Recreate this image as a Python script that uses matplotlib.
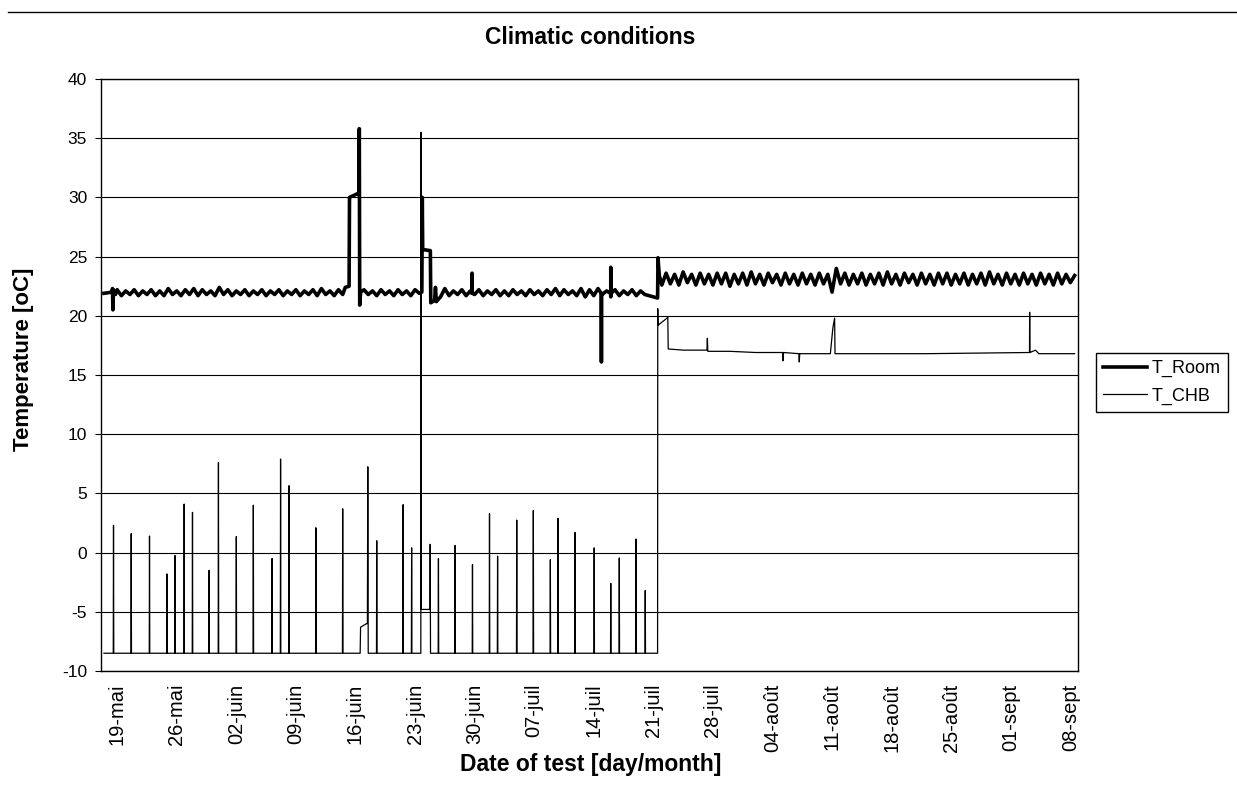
import numpy as np
import matplotlib
matplotlib.use("Agg")
import matplotlib.pyplot as plt
from matplotlib.lines import Line2D

plt.rcParams['font.family'] = ['Liberation Sans', 'DejaVu Sans']
plt.rcParams['axes.unicode_minus'] = False

# ---------------- data (x = days after 19 May) ----------------
tick_days = [0, 7, 14, 21, 28, 35, 42, 49, 56, 63, 70, 77, 84, 91, 98, 105, 112]
tick_labels = ["19-mai", "26-mai", "02-juin", "09-juin", "16-juin", "23-juin",
               "30-juin", "07-juil", "14-juil", "21-juil", "28-juil", "04-août",
               "11-août", "18-août", "25-août", "01-sept", "08-sept"]

# T_Room : irregular events
room_ev0_days = [-1.55, -0.6, -0.55, -0.5, -0.45, -0.2]
room_ev0_vals = [21.9, 22.0, 22.3, 20.5, 22.2, 21.8]

# half-day readings 0.0 .. 26.5
room_zig1 = [22.2, 21.7, 22.1, 21.8, 22.2, 21.7, 22.1, 21.8, 22.2, 21.7,
             22.1, 21.7, 22.3, 21.8, 22.1, 21.7, 22.2, 21.8, 22.3, 21.7,
             22.2, 21.8, 22.1, 21.7, 22.4, 21.8, 22.2, 21.7, 22.1, 21.8,
             22.2, 21.7, 22.1, 21.8, 22.2, 21.7, 22.1, 21.8, 22.2, 21.7,
             22.1, 21.8, 22.2, 21.7, 22.1, 21.8, 22.2, 21.7, 22.3, 21.8,
             22.1, 21.7, 22.2, 21.8]

room_ev1_days = [26.8, 27.25, 27.3, 28.2, 28.4, 28.45, 28.5, 28.6]
room_ev1_vals = [22.4, 22.5, 30.0, 30.3, 30.4, 35.8, 20.9, 22.0]

# half-day readings 29.0 .. 35.5
room_zig2 = [22.2, 21.8, 22.1, 21.7, 22.2, 21.8, 22.1, 21.7, 22.2, 21.8,
             22.1, 21.7, 22.2, 21.9]

room_ev2_days = [35.8, 35.85, 35.9, 36.8, 36.85, 37.3, 37.4, 37.5, 38.0]
room_ev2_vals = [22.0, 30.0, 25.6, 25.5, 21.1, 21.3, 22.4, 21.2, 21.6]

# half-day readings 38.5 .. 62.0
room_zig3 = [22.3, 21.7, 22.1, 21.8, 22.2, 21.7, 22.1, 21.8, 22.2, 21.7,
             22.1, 21.8, 22.2, 21.7, 22.1, 21.7, 22.2, 21.8, 22.1, 21.7,
             22.2, 21.8, 22.1, 21.7, 22.2, 21.8, 22.3, 21.7, 22.2, 21.8,
             22.1, 21.7, 22.3, 21.6, 22.2, 21.7, 22.3, 21.8, 22.1, 21.6,
             22.2, 21.7, 22.1, 21.8, 22.2, 21.7, 22.1, 21.8]

room_spike_days = [41.7, 56.9, 58.0]
room_spike_vals = [23.6, 16.1, 24.1]
room_spike_base = 21.9

room_ev3_days = [63.5, 63.55, 63.7]
room_ev3_vals = [21.5, 24.9, 23.4]

# half-day readings 64.0 .. 112.5
room_zig4 = [22.6, 23.6, 22.7, 23.5, 22.6, 23.7, 22.8, 23.5, 22.6, 23.6,
             22.7, 23.5, 22.6, 23.6, 22.7, 23.6, 22.5, 23.5, 22.7, 23.6,
             22.6, 23.7, 22.7, 23.5, 22.6, 23.6, 22.8, 23.5, 22.6, 23.6,
             22.7, 23.5, 22.6, 23.6, 22.7, 23.5, 22.6, 23.6, 22.7, 23.5,
             22.0, 24.0, 22.7, 23.6, 22.6, 23.5, 22.7, 23.6, 22.6, 23.5,
             22.7, 23.6, 22.6, 23.7, 22.7, 23.5, 22.6, 23.6, 22.8, 23.5,
             22.6, 23.6, 22.7, 23.5, 22.6, 23.6, 22.7, 23.6, 22.6, 23.5,
             22.7, 23.6, 22.6, 23.5, 22.7, 23.6, 22.6, 23.7, 22.7, 23.5,
             22.6, 23.6, 22.7, 23.5, 22.6, 23.6, 22.7, 23.5, 22.6, 23.6,
             22.7, 23.5, 22.6, 23.6, 22.7, 23.5, 22.8, 23.4]

# T_CHB
chb_base = -8.5
chb_spike_days = [-0.43, 1.65, 3.8, 5.84, 6.8, 7.87, 8.85, 10.8, 11.9, 14.0,
                  16.0, 18.2, 19.2, 20.2, 23.35, 26.5, 30.5, 33.6, 34.6, 37.75,
                  39.7, 41.75, 43.75, 44.7, 46.95, 48.9, 50.9, 51.8, 53.8, 56.05,
                  58.0, 59.0, 60.95, 62.05]
chb_spike_tops = [2.3, 1.6, 1.4, -1.8, -0.25, 4.1, 3.4, -1.5, 7.6, 1.35,
                  4.0, -0.5, 7.9, 5.65, 2.1, 3.7, 1.0, 4.05, 0.4, -0.5,
                  0.6, -1.0, 3.3, -0.3, 2.75, 3.55, -0.6, 2.9, 1.7, 0.4,
                  -2.6, -0.45, 1.15, -3.2]
chb_days = [-1.55, 28.55, 28.6, 29.3, 29.4, 29.45, 29.5, 35.68, 35.7, 35.72,
            36.75, 36.78, 36.82, 63.5, 63.52, 63.55, 64.6, 64.7, 64.75, 66.5,
            69.3, 69.35, 69.4, 72.0, 75.0, 78.2, 78.25, 78.3, 80.1, 80.15,
            80.2, 83.8, 84.1, 84.3, 84.35, 95.0, 107.2, 107.22, 107.25, 107.9,
            108.3, 112.5]
chb_vals = [-8.5, -8.5, -6.3, -6.0, -6.0, 7.25, -8.5, -8.5, 35.5, -4.8,
            -4.8, 0.7, -8.5, -8.5, 20.6, 19.2, 19.8, 19.9, 17.2, 17.1,
            17.1, 18.1, 17.0, 17.0, 16.9, 16.9, 16.2, 16.9, 16.8, 16.1,
            16.8, 16.8, 19.0, 19.8, 16.8, 16.8, 16.9, 20.3, 16.9, 17.1,
            16.8, 16.8]

# ---------------- assemble series ----------------
def grid(start, n):
    return list(start + 0.5 * np.arange(n))

rd, rv = [], []
for d, v in [(room_ev0_days, room_ev0_vals),
             (grid(0.0, len(room_zig1)), room_zig1),
             (room_ev1_days, room_ev1_vals),
             (grid(29.0, len(room_zig2)), room_zig2),
             (room_ev2_days, room_ev2_vals),
             (grid(38.5, len(room_zig3)), room_zig3),
             (room_ev3_days, room_ev3_vals),
             (grid(64.0, len(room_zig4)), room_zig4)]:
    rd += list(d)
    rv += list(v)
for d, v in zip(room_spike_days, room_spike_vals):
    rd += [d - 0.02, d, d + 0.02]
    rv += [room_spike_base, v, room_spike_base]
rd = np.array(rd); rv = np.array(rv)
o = np.argsort(rd, kind='stable')
rd, rv = rd[o], rv[o]

cd, cv = list(chb_days), list(chb_vals)
for d, v in zip(chb_spike_days, chb_spike_tops):
    cd += [d - 0.03, d, d + 0.03]
    cv += [chb_base, v, chb_base]
cd = np.array(cd); cv = np.array(cv)
o = np.argsort(cd, kind='stable')
cd, cv = cd[o], cv[o]

# ---------------- figure ----------------
W, H = 1237, 808
fig = plt.figure(figsize=(W / 100, H / 100), dpi=100)
ax = fig.add_axes([101 / W, 1 - 671 / H, (1078 - 101) / W, (671 - 79) / H])

ax.plot(rd, rv, color='black', lw=2.6, label='T_Room')
ax.plot(cd, cv, color='black', lw=0.9, label='T_CHB')

ax.set_xlim(-1.9, 112.9)
ax.set_ylim(-10, 40)
ax.set_yticks(range(-10, 41, 5))
ax.yaxis.grid(True, color='black', lw=0.8)
ax.set_axisbelow(True)
ax.set_xticks(tick_days)
ax.set_xticklabels(tick_labels, rotation=90, fontsize=14.5)
ax.tick_params(axis='x', length=0, pad=9)
ax.tick_params(axis='y', length=4, width=0.8, direction='out', labelsize=12.5, pad=6)
for s in ax.spines.values():
    s.set_color('black'); s.set_linewidth(1.0)

fig.text(590 / W, 1 - 37 / H, 'Climatic conditions', ha='center', va='center',
         fontsize=16.5, fontweight='bold')
fig.text(24 / W, 1 - 359 / H, 'Temperature [oC]', ha='center', va='center',
         rotation=90, fontsize=16, fontweight='bold')
fig.text(591 / W, 1 - 764 / H, 'Date of test [day/month]', ha='center', va='center',
         fontsize=16.5, fontweight='bold')

h, l = ax.get_legend_handles_labels()
fig.legend(h, l, loc='upper left', bbox_to_anchor=(1096 / W, 1 - 353 / H),
           frameon=True, fancybox=False, edgecolor='black', framealpha=1,
           fontsize=13, handlelength=2.4, borderpad=0.4, labelspacing=0.55,
           handletextpad=0.3, borderaxespad=0)

fig.add_artist(Line2D([8 / W, 1], [1 - 12 / H, 1 - 12 / H], color='black', lw=1.0))

fig.savefig('out.png', dpi=100)
